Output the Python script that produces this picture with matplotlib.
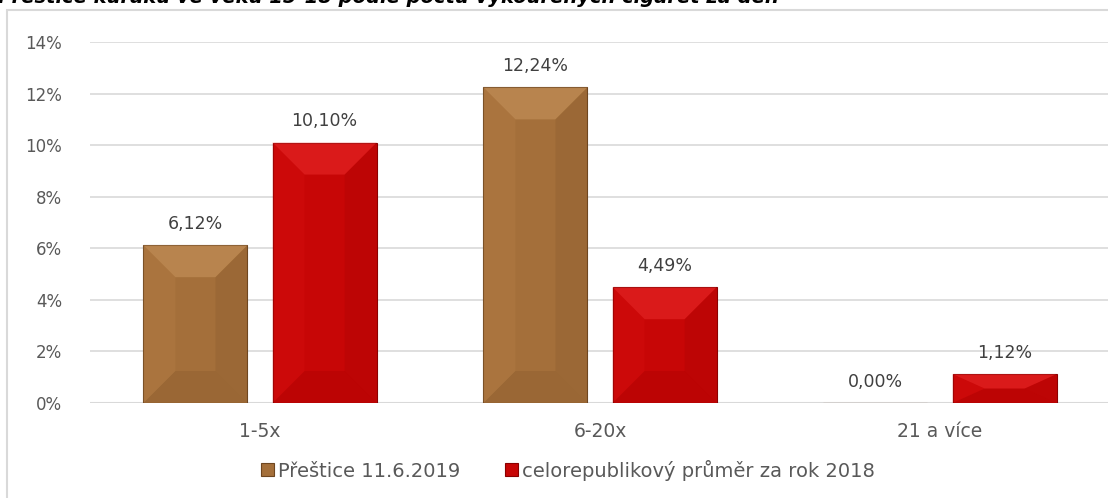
import matplotlib
matplotlib.use("Agg")
import matplotlib.pyplot as plt
from matplotlib.patches import Polygon, Rectangle
import numpy as np

categories = ["1-5x", "6-20x", "21 a více"]
series_names = ["Přeštice 11.6.2019", "celorepublikový průměr za rok 2018"]
prestice = [6.12, 12.24, 0.00]
cr_avg = [10.10, 4.49, 1.12]
yticks = [0, 2, 4, 6, 8, 10, 12, 14]
title = "Přeštice kuřáků ve věku 15-18 podle počtu vykouřených cigaret za den"

W, H = 1108, 498
fig = plt.figure(figsize=(W / 100, H / 100), dpi=100)
fig.patch.set_facecolor("white")

# chart frame
fig.patches.append(Rectangle((7 / W, -0.1), 1.2, 1.1 - 10 / H, transform=fig.transFigure,
                             fill=False, edgecolor="#d9d9d9", linewidth=1.5, zorder=0))
fig.text(-2 / W, 1 - 3 / H, title, fontsize=14, fontweight="bold", fontstyle="italic",
         color="black", ha="left", va="baseline")

ax = fig.add_axes([90 / W, 95 / H, 1020 / W, 361 / H])
x = np.arange(len(categories))
bw = 0.306
off = 0.19

tc = "#595959"
series = [
    (prestice, -off, "#a46f3a", "#e0ad74", "#6e4620", "#b8824a"),
    (cr_avg, off, "#c70606", "#ff4040", "#8a0000", "#d81010"),
]

def bevel(ax, rect, light, dark, mid):
    x0, y0 = rect.get_x(), rect.get_y()
    w, h = rect.get_width(), rect.get_height()
    if h <= 0:
        return
    inv = ax.transData.inverted()
    p0 = inv.transform(ax.transData.transform((0, 0)) + np.array([32, 32]))
    bx, by = p0[0] - ax.get_xlim()[0] - (inv.transform(ax.transData.transform((0, 0)))[0] - ax.get_xlim()[0]), p0[1]
    by = min(by, h / 2)
    bx2 = min(bx, w / 2)
    top = Polygon([(x0, y0 + h), (x0 + w, y0 + h), (x0 + w - bx2, y0 + h - by), (x0 + bx2, y0 + h - by)],
                  closed=True, facecolor=light, edgecolor="none", zorder=3, alpha=0.35)
    bot = Polygon([(x0, y0), (x0 + w, y0), (x0 + w - bx2, y0 + by), (x0 + bx2, y0 + by)],
                  closed=True, facecolor=dark, edgecolor="none", zorder=3, alpha=0.18)
    right = Polygon([(x0 + w, y0), (x0 + w, y0 + h), (x0 + w - bx2, y0 + h - by), (x0 + w - bx2, y0 + by)],
                    closed=True, facecolor=dark, edgecolor="none", zorder=3, alpha=0.15)
    left = Polygon([(x0, y0), (x0, y0 + h), (x0 + bx2, y0 + h - by), (x0 + bx2, y0 + by)],
                   closed=True, facecolor=mid, edgecolor="none", zorder=3, alpha=0.3)
    for p in (top, bot, right, left):
        ax.add_patch(p)

ax.set_xlim(-0.5, len(categories) - 0.5)
ax.set_ylim(0, 14)

handles = []
for (vals, o, main, light, dark, mid), name in zip(series, series_names):
    bars = ax.bar(x + o, vals, width=bw, color=main, edgecolor=dark, linewidth=0.8, zorder=2, label=name)
    handles.append(bars)
    for r, v in zip(bars, vals):
        bevel(ax, r, light, dark, mid)
        ax.annotate(f"{v:.2f}%".replace(".", ","), (r.get_x() + r.get_width() / 2, v),
                    xytext=(0, 9), textcoords="offset points", ha="center", va="bottom",
                    fontsize=12.5, color="#404040")

ax.set_yticks(yticks)
ax.set_yticklabels([f"{t}%" for t in yticks], fontsize=12, color=tc)
ax.set_xticks(x)
ax.set_xticklabels(categories, fontsize=13.5, color=tc)
ax.tick_params(axis="x", length=0, pad=14)
ax.tick_params(axis="y", length=0, pad=20)
ax.grid(axis="y", color="#d9d9d9", linewidth=1.2, zorder=0)
ax.set_axisbelow(True)
for s in ax.spines.values():
    s.set_visible(False)
ax.axhline(0, color="#d9d9d9", linewidth=1.5, zorder=1)

leg = fig.legend(handles=handles, labels=series_names, loc="center", bbox_to_anchor=(568 / W, 1 - 470 / H),
                 ncol=2, frameon=False, fontsize=14, handlelength=0.67, handleheight=0.67,
                 handletextpad=0.2, columnspacing=2.3, labelcolor=tc)

fig.savefig("out.png", dpi=100)
